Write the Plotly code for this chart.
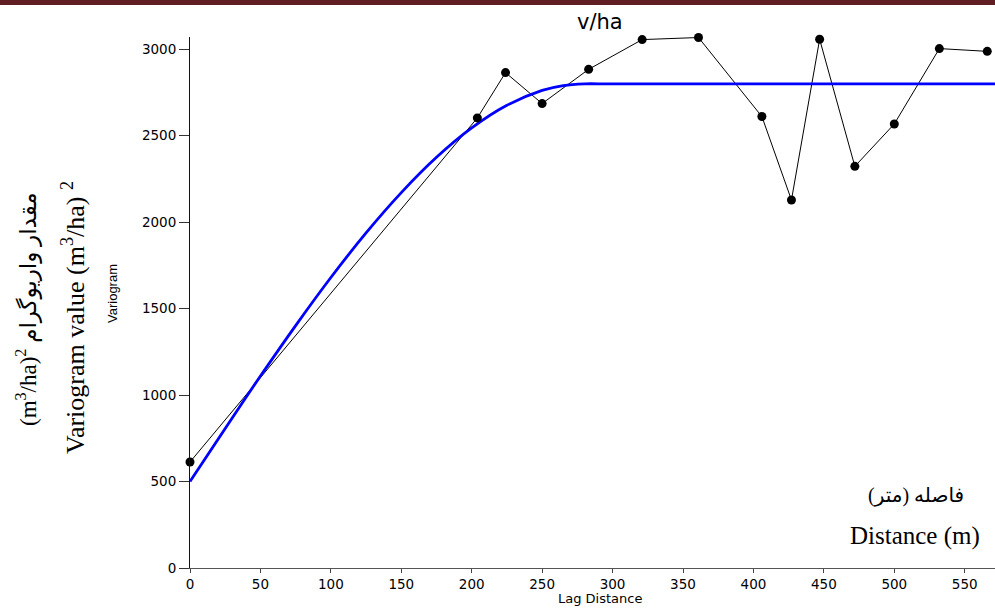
import plotly.graph_objects as go

# Experimental variogram (lag distance in m, semivariance)
lag_distance = [0, 204, 224, 250, 283, 321, 361, 406, 427, 447, 472, 500, 532, 566]
variogram = [613, 2603, 2865, 2686, 2884, 3056, 3068, 2611, 2128, 3058, 2323, 2568, 3004, 2988]

# Fitted model curve (blue)
model_lag = [0, 25, 50, 75, 100, 125, 150, 175, 200, 225, 250, 265, 280, 295, 320, 571.5]
model_value = [500, 807, 1110, 1402, 1680, 1938, 2171, 2375, 2545, 2676, 2762, 2790, 2800, 2800, 2800, 2800]

x_ticks = [0, 50, 100, 150, 200, 250, 300, 350, 400, 450, 500, 550]
y_ticks = [0, 500, 1000, 1500, 2000, 2500, 3000]

title_text = "v/ha"
x_title = "Lag Distance"
y_title = "Variogram"
y_label_en = "Variogram value (m<sup>3</sup>/ha) <sup>2</sup>"
y_label_fa = "(m<sup>3</sup>/ha)<sup>2</sup> مقدار واریوگرام"
x_label_fa = "\u200fفاصله (متر)\u200f"
x_label_en = "Distance (m)"

W, H = 995, 608
L, R, T, B = 190, 0, 37, 40
PW, PH = W - L - R, H - T - B


def px(x):
    return (x - L) / PW


def py(y):
    return (H - B - y) / PH


fig = go.Figure()
fig.add_trace(go.Scatter(x=lag_distance, y=variogram, mode="lines",
                         line=dict(color="black", width=1), hoverinfo="skip",
                         showlegend=False))
fig.add_trace(go.Scatter(x=model_lag, y=model_value, mode="lines",
                         line=dict(color="#0000ff", width=2.8, shape="spline", smoothing=0.9),
                         showlegend=False))
fig.add_trace(go.Scatter(x=lag_distance, y=variogram, mode="markers",
                         marker=dict(color="black", size=9), cliponaxis=False,
                         showlegend=False))

serif = "Liberation Serif, Times New Roman, DejaVu Sans"
sans = "DejaVu Sans, Liberation Sans, Arial"

annotations = [
    dict(text=title_text, x=px(600), y=py(22), yanchor="middle",
         font=dict(family=sans, size=21, color="black")),
    dict(text=x_title, x=px(600), y=py(608), yanchor="bottom",
         font=dict(family=sans, size=13, color="black")),
    dict(text=y_title, x=px(112), y=py(294), textangle=-90, yanchor="middle",
         font=dict(family="Liberation Sans Narrow, Liberation Sans, Arial", size=13, color="black")),
    dict(text=y_label_en, x=px(73), y=py(317), textangle=-90, yanchor="middle",
         font=dict(family=serif, size=26, color="black")),
    dict(text=y_label_fa, x=px(27), y=py(309), textangle=-90, yanchor="middle",
         font=dict(family=serif, size=23, color="black")),
    dict(text=x_label_fa, x=px(916), y=py(495), yanchor="middle",
         font=dict(family=serif, size=20, color="black")),
    dict(text=x_label_en, x=px(915), y=py(536), yanchor="middle",
         font=dict(family=serif, size=25, color="black")),
]
for a in annotations:
    a.update(xref="paper", yref="paper", showarrow=False, xanchor="center")

fig.update_layout(
    width=W, height=H,
    margin=dict(l=L, r=R, t=T, b=B, pad=0),
    paper_bgcolor="white", plot_bgcolor="white",
    annotations=annotations,
    shapes=[dict(type="rect", xref="paper", yref="paper",
                 x0=px(0), x1=1, y0=py(5), y1=py(0),
                 fillcolor="#621f23", line=dict(width=0), layer="above")],
    xaxis=dict(range=[0, 571.5], tickvals=x_ticks, ticks="outside", ticklen=4,
               tickcolor="#444", tickwidth=1, showline=True, linecolor="#555", linewidth=1,
               showgrid=False, zeroline=False,
               tickfont=dict(family=sans, size=13.5, color="black")),
    yaxis=dict(range=[0, 3071], tickvals=y_ticks, ticks="outside", ticklen=10,
               tickcolor="#333", tickwidth=1, showline=True, linecolor="#111", linewidth=1,
               showgrid=False, zeroline=False,
               tickfont=dict(family=sans, size=13.5, color="black")),
)

fig.write_html("out.html")
